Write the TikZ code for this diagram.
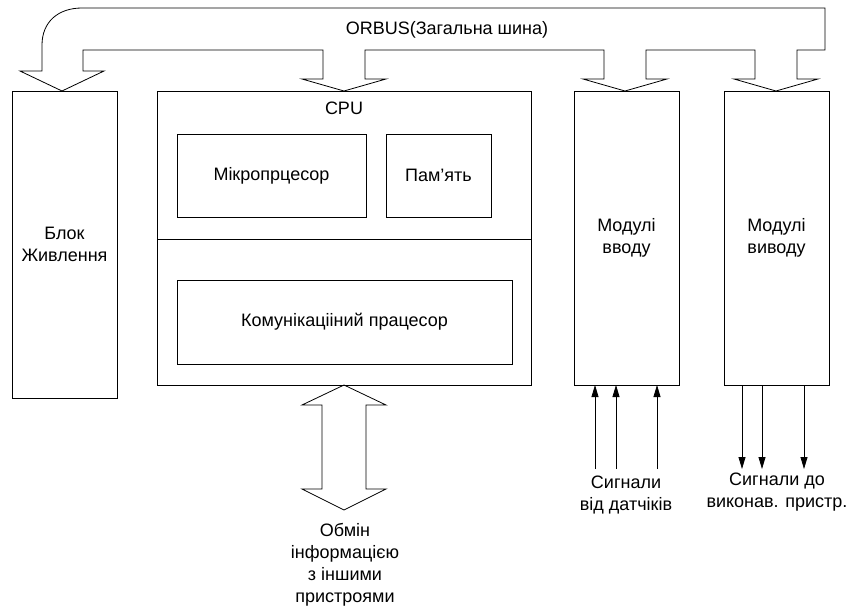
\documentclass[tikz,border=0pt]{standalone}
\usepackage{fontspec}
\setmainfont{Liberation Sans}
\usetikzlibrary{positioning,arrows.meta}

\begin{document}
\begin{tikzpicture}[
    x=1pt,y=-1pt,
    every node/.style={
        inner sep=0pt,
        outer sep=0pt,
        align=center,
        font=\fontsize{18}{22}\selectfont,
    },
    box/.style n args={2}{
        draw,rectangle,
        line width=.8pt,
        minimum width=#1pt,
        minimum height=#2pt,
    },
    outline/.style={
        draw,
        line width=.8pt,
        line join=miter,
    },
    sig/.style={
        line width=.8pt,
        -{Triangle[length=12pt,width=7pt]},
    }
]
    \useasboundingbox (0,0) rectangle (850,605);
    % bus
    \draw[outline] (42,71) -- (42,45) .. controls (42,22) and (58,8) .. (82,8) -- (825,8) -- (825,50)
        -- (797,50) -- (797,79) -- (818,79) -- (776,91) -- (734,79) -- (755,79) -- (755,50)
        -- (646,50) -- (646,79) -- (667,79) -- (625,91) -- (583,79) -- (604,79) -- (604,50)
        -- (365,50) -- (365,79) -- (386,79) -- (344,91) -- (302,79) -- (323,79) -- (323,50)
        -- (83,50) -- (83,71) -- (104,71) -- (62,91) -- (20,71) -- cycle;
    \node (buslabel) at (447,30) {ORBUS(Загальна шина)};
    % blocks
    \node[box={105}{307}] (power) at (64.5,244.5) {Блок\\Живлення};
    \node[box={374}{294}] (cpu) at (344,238) {};
    \node (cpulabel) at (344,108) {CPU};
    \draw[line width=.8pt] (cpu.west |- 0,239) -- (cpu.east |- 0,239);
    \node[box={189}{83}] (micro) at (271.5,175.5) {Мікропрцесор};
    \node[box={105}{83}, right=20pt of micro] (mem) {Пам’ять};
    \node[box={335}{84}] (comm) at (344.5,322) {Комунікаціiний працесор};
    \node[box={105}{294}] (inmod) at (626.5,238) {Модулі\\вводу};
    \node[box={105}{294}] (outmod) at (776.5,238) {Модулі\\виводу};
    % exchange
    \draw[outline] (cpu.south) -- ++(42,20) -- ++(-20,0) -- ++(0,84) -- ++(20,0) -- ++(-42,21)
        -- ++(-42,-21) -- ++(20,0) -- ++(0,-84) -- ++(-20,0) -- cycle;
    \node (exch) at (345,565) {Обмін\\інформацією\\з іншими\\пристроями};
    % signals
    \foreach \d in {-31.5,-10.5,30.5}
        \draw[sig] ([xshift=\d pt]inmod.south) ++(0,84) -- ([xshift=\d pt]inmod.south);
    \foreach \d in {-34.5,-14.5,27.5}
        \draw[sig] ([xshift=\d pt]outmod.south) -- ++(0,84);
    \node (sensors) at (626,495) {Сигнали\\від датчіків};
    \node (actors) at (777,492) {Сигнали до\\виконав. пристр.};
\end{tikzpicture}
\end{document}
